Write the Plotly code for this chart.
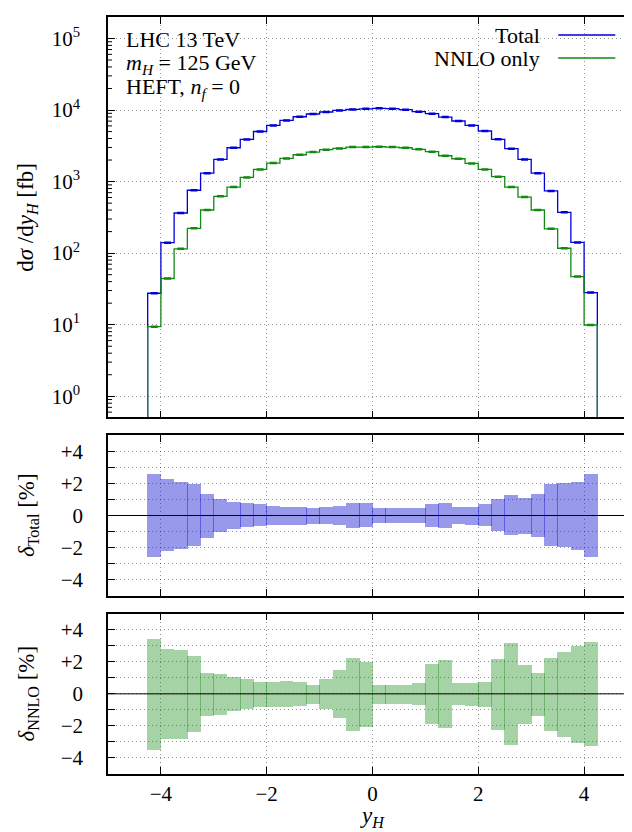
import numpy as np
import plotly.graph_objects as go
from plotly.subplots import make_subplots

# bin edges of the y_H histogram
bin_edges = [-4.25 + 0.25 * i for i in range(35)]

# d sigma / d y_H [fb]
total_xs = [27.5, 140, 364, 757, 1310, 2040, 2970, 3880, 5010, 6100, 7160, 8060,
            8800, 9380, 9880, 10200, 10400, 10550, 10440, 10100, 9480, 8890, 7980,
            7020, 6100, 5090, 3890, 2880, 2040, 1310, 740, 372, 141, 28.1]
nnlo_xs = [9.4, 44.2, 115, 222, 401, 622, 838, 1143, 1479, 1815, 2110, 2373,
           2586, 2788, 2910, 3040, 3040, 3070, 3040, 2970, 2820, 2615, 2295,
           2085, 1795, 1480, 1170, 838, 607, 401, 219, 117, 47, 9.9]

# relative uncertainties [%]
total_up = [2.60, 2.23, 2.04, 1.92, 1.35, 1.04, 0.85, 0.73, 0.67, 0.60, 0.54, 0.54,
            0.48, 0.54, 0.60, 0.79, 0.73, 0.42, 0.42, 0.42, 0.48, 0.67, 0.79, 0.54,
            0.54, 0.67, 0.98, 1.23, 1.10, 1.35, 1.92, 1.98, 2.10, 2.60]
total_dn = [-2.62, -2.25, -2.12, -1.94, -1.44, -1.06, -0.875, -0.75, -0.69, -0.625,
            -0.625, -0.58, -0.56, -0.56, -0.625, -0.81, -0.75, -0.5, -0.5, -0.5, -0.5,
            -0.75, -0.81, -0.56, -0.625, -0.69, -1.0, -1.25, -1.19, -1.375, -1.94,
            -2.0, -2.19, -2.62]
nnlo_up = [3.42, 2.79, 2.73, 2.35, 1.35, 1.23, 1.04, 0.92, 0.73, 0.73, 0.79, 0.73,
           0.60, 0.92, 1.48, 2.23, 1.98, 0.60, 0.54, 0.60, 0.67, 1.85, 2.10, 0.67,
           0.67, 0.73, 2.17, 3.17, 1.79, 1.29, 2.23, 2.60, 2.98, 3.23]
nnlo_dn = [-3.5, -2.81, -2.81, -2.375, -1.375, -1.31, -1.06, -0.94, -0.81, -0.81,
           -0.81, -0.75, -0.625, -0.94, -1.5, -2.31, -2.06, -0.625, -0.625, -0.625,
           -0.69, -1.875, -2.125, -0.69, -0.75, -0.81, -2.25, -3.19, -1.875, -1.375,
           -2.31, -2.69, -3.06, -3.25]

log_ticks = [1, 10, 100, 1e3, 1e4, 1e5]
log_labels = ["10<sup>0</sup>", "10<sup>1</sup>", "10<sup>2</sup>",
              "10<sup>3</sup>", "10<sup>4</sup>", "10<sup>5</sup>"]

centers = [(a + b) / 2 for a, b in zip(bin_edges[:-1], bin_edges[1:])]
FONT = "Liberation Serif, serif"
BLUE = "#0000d8"
GREEN = "#108a10"
TICKFONT = dict(family=FONT, size=21, color="black")

fig = make_subplots(rows=3, cols=1, shared_xaxes=True)


def step_trace(vals, color, name):
    xs = [bin_edges[0]] + bin_edges + [bin_edges[-1]]
    ys = [1e-3] + list(vals) + [vals[-1], 1e-3]
    return go.Scatter(x=xs, y=ys, mode="lines", line=dict(color=color, width=1.3, shape="hv"),
                      name=name, showlegend=False, hoverinfo="skip")


fig.add_trace(step_trace(total_xs, BLUE, "Total"), row=1, col=1)
fig.add_trace(step_trace(nnlo_xs, GREEN, "NNLO only"), row=1, col=1)
for vals, color in [(total_xs, BLUE), (nnlo_xs, GREEN)]:
    fig.add_trace(go.Scatter(x=centers, y=vals, mode="markers", showlegend=False,
                             marker=dict(symbol="line-ew", size=5, line=dict(width=2.5, color=color))),
                  row=1, col=1)

# uncertainty bands
for r, up, dn, fill in [(2, total_up, total_dn, "rgba(0,0,205,0.4)"),
                        (3, nnlo_up, nnlo_dn, "rgba(0,130,0,0.35)")]:
    fig.add_trace(go.Bar(x=centers, y=[u - d for u, d in zip(up, dn)], base=dn, width=0.262,
                         marker=dict(color=fill, line=dict(width=0)), showlegend=False),
                  row=r, col=1)
    fig.add_shape(type="line", x0=-5, x1=5, y0=0, y1=0, line=dict(color="black", width=1),
                  layer="above", row=r, col=1)

# minor ticks of the log axis, on both sides
for e in range(0, 6):
    for m in range(2, 10):
        v = m * 10 ** (e - 1)
        for x0, x1 in [(0, 0.0075), (0.9925, 1)]:
            fig.add_shape(type="line", xref="x domain", yref="y", x0=x0, x1=x1, y0=v, y1=v,
                          line=dict(color="black", width=1), layer="above")

# layout geometry (margins t=9 b=66 -> plot height 757)
H = 757.0
doms = [((766 - 409.3) / H, 1.0), ((766 - 587.7) / H, (766 - 427.3) / H), (0.0, (766 - 605.7) / H)]

axis_common = dict(showline=True, linecolor="black", linewidth=1.5, mirror="allticks",
                   ticks="inside", tickcolor="black", ticklen=7, tickwidth=1.2,
                   showgrid=True, gridcolor="rgba(0,0,0,0.42)", griddash="1px,3px", gridwidth=1,
                   zeroline=False, tickfont=TICKFONT)

layout_axes = {}
for i in range(3):
    sfx = "" if i == 0 else str(i + 1)
    layout_axes["xaxis" + sfx] = dict(axis_common, range=[-5, 5], tickmode="array",
                                      tickvals=[-4, -2, 0, 2, 4],
                                      ticktext=["\u22124", "\u22122", "0", "2", "4"],
                                      showticklabels=(i == 2), ticklabelstandoff=0)

layout_axes["yaxis"] = dict(axis_common, type="log", range=[-0.294, 5.30], tickmode="array",
                            tickvals=log_ticks, ticktext=log_labels,
                            ticklabelstandoff=22, domain=list(doms[0]))
for r in (2, 3):
    layout_axes["yaxis" + str(r)] = dict(axis_common, range=[-5, 5], tickmode="array",
                                         tickvals=list(range(-4, 5)),
                                         ticktext=["\u22124", "", "\u22122", "", "0", "", "+2", "", "+4"],
                                         ticklabelstandoff=19, domain=list(doms[r - 1]))

annos = [
    dict(x=-0.152, y=(doms[0][0] + doms[0][1]) / 2,
         text="d<i>σ</i> /d<i>y</i><sub><i>H</i></sub> [fb]"),
    dict(x=-0.152, y=(doms[1][0] + doms[1][1]) / 2, text="<i>δ</i><sub>Total</sub> [%]"),
    dict(x=-0.152, y=(doms[2][0] + doms[2][1]) / 2, text="<i>δ</i><sub>NNLO</sub> [%]"),
]
for a in annos:
    fig.add_annotation(xref="paper", yref="paper", textangle=-90, showarrow=False,
                       xanchor="center", yanchor="middle",
                       font=dict(family=FONT, size=23, color="black"), **a)

fig.add_annotation(xref="paper", yref="paper", x=0.5, y=-0.057, showarrow=False,
                   text="<i>y</i><sub><i>H</i></sub>", yanchor="middle",
                   font=dict(family=FONT, size=23, color="black"))

# process info
info = ["LHC 13 TeV", "<i>m</i><sub><i>H</i></sub> = 125 GeV", "HEFT, <i>n</i><sub><i>f</i></sub> = 0"]
for k, t in enumerate(info):
    fig.add_annotation(xref="paper", yref="paper", x=0.03, y=(766 - 32 - 24 * k) / H,
                       text=t, showarrow=False, xanchor="left", yanchor="middle",
                       font=dict(family=FONT, size=22, color="black"))

# key
for k, (t, c) in enumerate([("Total", BLUE), ("NNLO only", GREEN)]):
    yk = (766 - 27 - 23 * k) / H
    fig.add_annotation(xref="paper", yref="paper", x=0.82, y=yk, text=t, showarrow=False,
                       xanchor="right", yanchor="middle",
                       font=dict(family=FONT, size=22, color="black"))
    fig.add_shape(type="line", xref="paper", yref="paper", x0=0.851, x1=0.959, y0=yk, y1=yk,
                  line=dict(color=c, width=1.3))

fig.update_layout(width=632, height=832, margin=dict(l=100, r=1, t=9, b=66),
                  plot_bgcolor="white", paper_bgcolor="white", bargap=0, barmode="overlay",
                  showlegend=False, font=dict(family=FONT, color="black", size=21),
                  **layout_axes)

fig.write_html("out.html")
